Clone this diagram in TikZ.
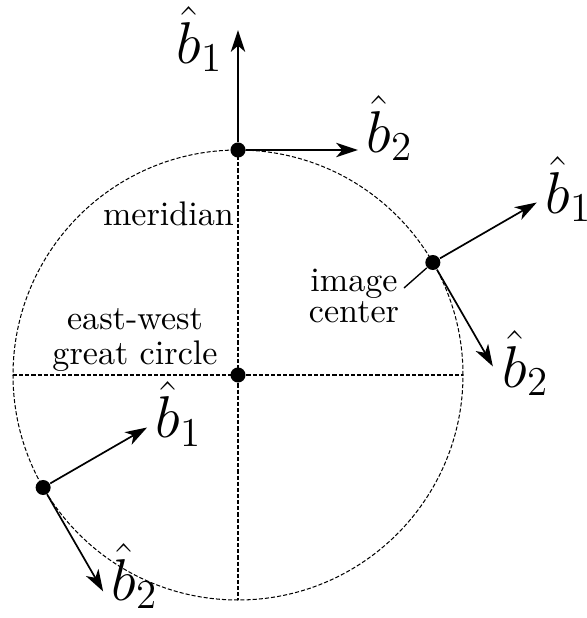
\documentclass[tikz,border=0pt]{standalone}
\usetikzlibrary{arrows.meta,calc}
\begin{document}
\begin{tikzpicture}[x=0.293pt,y=0.293pt,
  guide/.style={line width=0.3pt,dash pattern=on 1.2pt off 0.6pt},
  vec/.style={line width=0.5pt,-{Stealth[length=6.4pt,width=4.2pt,inset=1.8pt]}},
  dot/.style={circle,fill=black,inner sep=0pt,minimum size=4.4pt},
  lbl/.style={inner sep=0pt,font=\LARGE,anchor=base west},
  txt/.style={inner sep=0pt,align=center,font=\normalsize}]
\useasboundingbox (0,0) rectangle (586,618);
\coordinate (C0) at (238,243);
\draw[guide] (C0) circle (225);
\coordinate (W) at (13,243);
\coordinate (E) at (463,243);
\coordinate (S) at (238,18);
\node[dot] (T) at (238,468) {};
\node[dot] (C) at (C0) {};
\node[dot] (R) at ($(C0)+(30:225)$) {};
\node[dot] (L) at ($(C0)+(210:225)$) {};
\draw[guide] (W) -- (E);
\draw[guide] (T.center) -- (S);
% top frame
\coordinate (T1) at (238,588);
\coordinate (T2) at (358,468);
\draw[vec] (T) -- (T1);
\draw[vec] (T) -- (T2);
% right frame
\coordinate (R1) at ($(R)+(30:120)$);
\coordinate (R2) at ($(R)+(-60:120)$);
\draw[vec] (R) -- (R1);
\draw[vec] (R) -- (R2);
% lower-left frame
\coordinate (L1) at ($(L)+(30:120)$);
\coordinate (L2) at ($(L)+(-60:120)$);
\draw[vec] (L) -- (L1);
\draw[vec] (L) -- (L2);
% labels
\node[lbl] (lt1) at (176,555) {$\hat{b}_1$};
\node[lbl] (lt2) at (366,466) {$\hat{b}_2$};
\node[lbl] (lr1) at (545,405) {$\hat{b}_1$};
\node[lbl] (lr2) at (502,231) {$\hat{b}_2$};
\node[lbl] (ll1) at (155,180) {$\hat{b}_1$};
\node[lbl] (ll2) at (111,18) {$\hat{b}_2$};
\node[txt] (mer) at (168.5,404) {meridian};
\node[txt] (ew) at (135,278) {east-west\\[-2pt]great circle};
\node[txt] (ic) at (354,322) {image\\[-3pt]center};
\coordinate (icp) at (404,330);
\draw[line width=0.4pt] (icp) -- (R);
\end{tikzpicture}
\end{document}
